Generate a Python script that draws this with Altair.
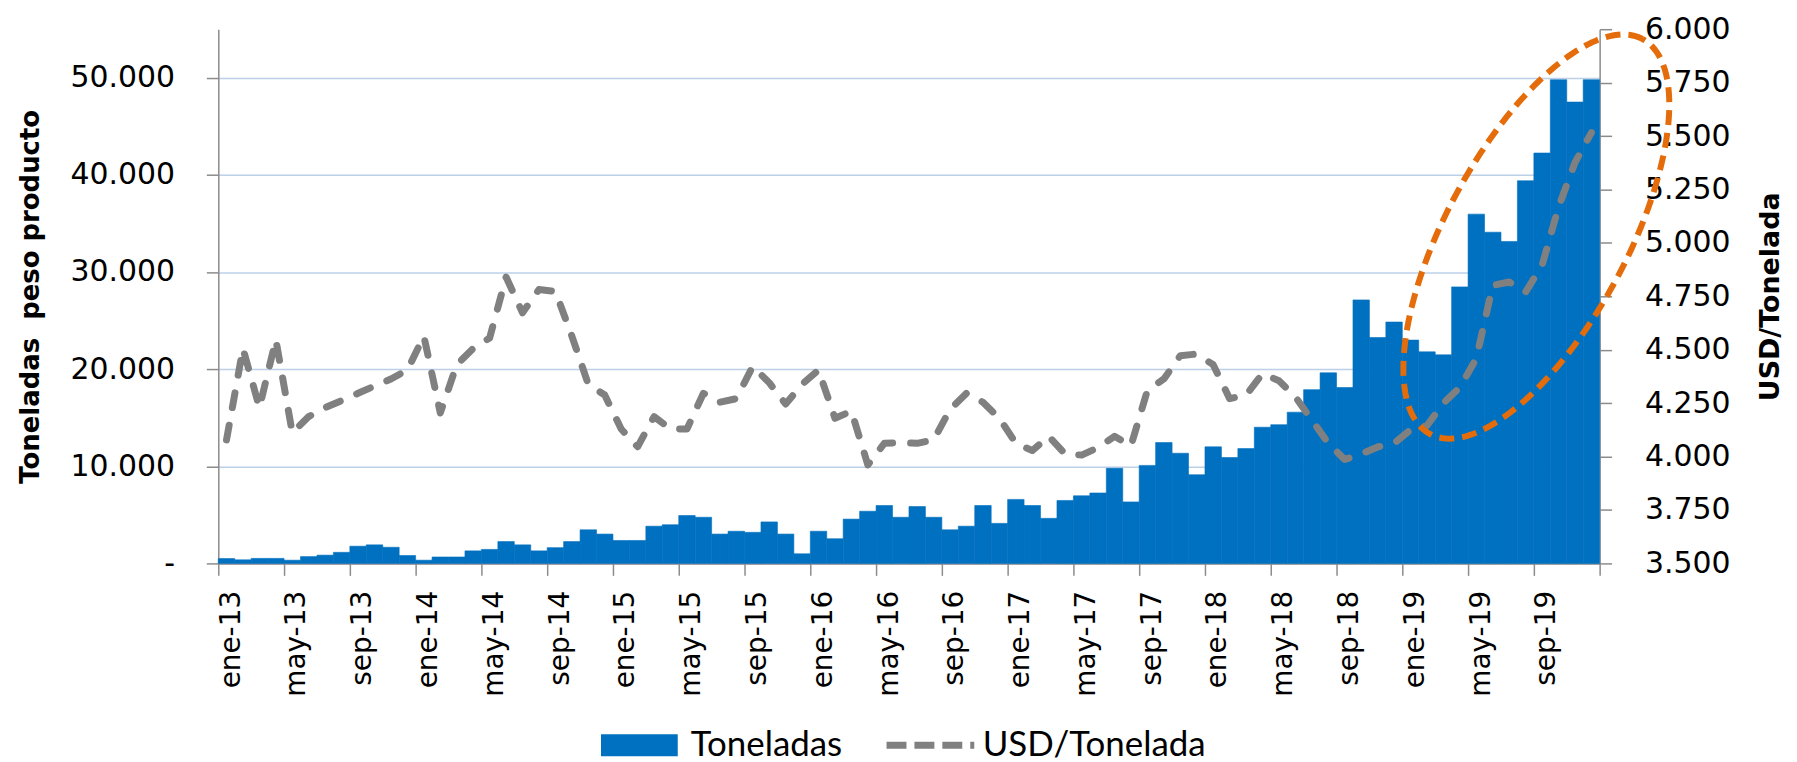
import altair as alt
import numpy as np
import pandas as pd

# ---------------- data ----------------
MONTHS = ["ene", "feb", "mar", "abr", "may", "jun", "jul", "ago", "sep", "oct", "nov", "dic"]
YEARS = ["13", "14", "15", "16", "17", "18", "19"]

TONELADAS = [
    500, 370, 515, 515, 330, 700, 850, 1140, 1770, 1910, 1660, 810,
    330, 660, 660, 1290, 1440, 2250, 1910, 1290, 1620, 2250, 3460, 3020,
    2360, 2360, 3830, 3980, 4930, 4750, 3020, 3310, 3200, 4270, 3020, 990,
    3310, 2540, 4560, 5370, 5960, 4750, 5850, 4750, 3460, 3830, 5960, 4120,
    6590, 5960, 4640, 6480, 6960, 7250, 9790, 6330, 10090, 12440, 11340, 9130,
    12000, 10900, 11820, 14020, 14280, 15570, 17890, 19620, 18110, 27130, 23260, 24850,
    22990, 21780, 21470, 28470, 35960, 34100, 33150, 39400, 42250, 49800, 47500, 49800,
]

USD_TON = [
    4078, 4506, 4229, 4547, 4112, 4187, 4229, 4262, 4296, 4330, 4363, 4405,
    4564, 4204, 4430, 4506, 4555, 4840, 4673, 4782, 4773, 4564, 4338, 4288,
    4129, 4046, 4187, 4129, 4129, 4296, 4254, 4271, 4422, 4346, 4246, 4338,
    4405, 4179, 4213, 3961, 4062, 4065, 4062, 4078, 4221, 4296, 4254, 4179,
    4062, 4028, 4095, 4012, 4007, 4042, 4095, 4050, 4310, 4363, 4472, 4480,
    4430, 4271, 4288, 4388, 4355, 4279, 4171, 4062, 3986, 4012, 4045, 4062,
    4125, 4145, 4250, 4324, 4459, 4801, 4817, 4770, 4895, 5167, 5376, 5516,
]

LEFT_TICKS = [0, 10000, 20000, 30000, 40000, 50000]
RIGHT_TICKS = [3500, 3750, 4000, 4250, 4500, 4750, 5000, 5250, 5500, 5750, 6000]
SERIES = ["Toneladas", "USD/Tonelada"]
LEFT_TITLE = "Toneladas\u00a0 peso producto"
RIGHT_TITLE = "USD/Tonelada"

# annotation ellipse (centre in data units, semi-axes in px, tilt in degrees)
ELL_CX, ELL_CY = 80.15, 33650
ELL_A, ELL_B, ELL_ANGLE = 225, 91, 61.7

# ---------------- styling ----------------
W, H = 1386, 536
BLUE = "#0070C0"
GREY = "#808080"
ORANGE = "#E46C0A"
GRID = "#BCD0E8"
AXIS = "#8C8C8C"
TICK_FONT = "DejaVu Sans"

labels = [f"{m}-{y}" for y in YEARS for m in MONTHS]
n = len(labels)
idx = np.arange(n)
df = pd.DataFrame({
    "i": idx, "i1": idx + 1, "mid": idx + 0.5, "mes": labels,
    "ton": TONELADAS, "usd": USD_TON,
    "sb": SERIES[0], "sl": SERIES[1],
})

XMAX, YMAX = n, 55000
px_x, px_y = W / XMAX, H / YMAX
t = np.linspace(0, 2 * np.pi, 241)
th = np.radians(ELL_ANGLE)
dx = ELL_A * np.cos(t) * np.cos(th) - ELL_B * np.sin(t) * np.sin(th)
dy = ELL_A * np.cos(t) * np.sin(th) + ELL_B * np.sin(t) * np.cos(th)
ell = pd.DataFrame({"k": np.arange(len(t)), "x": ELL_CX + dx / px_x, "y": ELL_CY + dy / px_y})

label_arr = "[" + ",".join(f"'{l}'" for l in labels) + ",'']"
x_scale = alt.Scale(domain=[0, XMAX], nice=False, zero=False)
x_axis = alt.Axis(
    values=list(range(0, XMAX + 1, 4)), labelExpr=f"{label_arr}[datum.value]",
    labelAngle=270, labelAlign="right", labelBaseline="middle", labelOffset=13,
    tickSize=12, labelPadding=15, grid=False, title=None,
    domainColor=AXIS, domainWidth=1.5, tickColor=AXIS, tickWidth=1.5,
    labelFont=TICK_FONT, labelFontSize=28, labelColor="#000000",
)

num_expr = "replace(format(datum.value, ',.0f'), ',', '.')"

y_left = alt.Axis(
    values=LEFT_TICKS, labelExpr=f"datum.value == 0 ? '-\u00a0\u00a0' : {num_expr}",
    grid=True, gridColor=GRID, gridWidth=1.5,
    tickSize=12, labelPadding=32, domainColor=AXIS, domainWidth=1.5, tickColor=AXIS, tickWidth=1.5,
    labelFont=TICK_FONT, labelFontSize=30, labelColor="#000000",
    title=LEFT_TITLE, titleFont=TICK_FONT, titleFontSize=26, titleFontWeight="bold",
    titleColor="#000000", titlePadding=26,
)
y_right = alt.Axis(
    orient="right", values=RIGHT_TICKS, labelExpr=num_expr, grid=False,
    tickSize=12, labelPadding=33, domainColor=AXIS, domainWidth=1.5, tickColor=AXIS, tickWidth=1.5,
    labelFont=TICK_FONT, labelFontSize=30, labelColor="#000000",
    title=RIGHT_TITLE, titleFont=TICK_FONT, titleFontSize=27, titleFontWeight="bold",
    titleColor="#000000", titlePadding=28, titleAngle=270, titleBaseline="top",
)

bars = alt.Chart(df).mark_bar(stroke=BLUE, strokeWidth=0.6).encode(
    x=alt.X("i:Q", scale=x_scale, axis=x_axis),
    x2="i1:Q",
    y=alt.Y("ton:Q", scale=alt.Scale(domain=[0, YMAX], nice=False), axis=y_left),
    y2=alt.datum(0),
    fill=alt.Fill(
        "sb:N", scale=alt.Scale(domain=[SERIES[0]], range=[BLUE]),
        legend=alt.Legend(
            title=None, orient="none", legendX=405, legendY=701, padding=0,
            symbolType="M-3.5,-1H3.5V1H-3.5Z", symbolSize=484, symbolStrokeWidth=0,
            labelFont="Lato", labelFontSize=35, labelOffset=34, labelColor="#000000", labelLimit=400,
        ),
    ),
)

line = alt.Chart(df).mark_line(
    strokeWidth=7, strokeDash=[15, 18], strokeCap="round", strokeJoin="round"
).encode(
    x=alt.X("mid:Q", scale=x_scale, axis=x_axis),
    y=alt.Y("usd:Q", scale=alt.Scale(domain=[3500, 6000], nice=False, zero=False), axis=y_right),
    stroke=alt.Stroke(
        "sl:N", scale=alt.Scale(domain=[SERIES[1]], range=[GREY]),
        legend=alt.Legend(
            title=None, orient="none", legendX=697, legendY=701, padding=0,
            symbolType="M-4,0H4", symbolSize=484, symbolStrokeWidth=7, symbolDash=[20, 8],
            symbolFillColor="transparent",
            labelFont="Lato", labelFontSize=35, labelOffset=35, labelColor="#000000", labelLimit=400,
        ),
    ),
)

ellipse = alt.Chart(ell).mark_line(
    color=ORANGE, strokeWidth=6, strokeDash=[15, 8], clip=False
).encode(
    x=alt.X("x:Q", scale=x_scale, axis=x_axis),
    y=alt.Y("y:Q", scale=alt.Scale(domain=[0, YMAX], nice=False), axis=None),
    order="k:Q",
)

chart = (
    alt.layer(bars, line, ellipse)
    .resolve_scale(y="independent", fill="independent", stroke="independent")
    .properties(
        width=W, height=H,
        autosize=alt.AutoSizeParams(type="none"),
        padding={"left": 211, "top": 20, "right": 190, "bottom": 200},
        background="white",
    )
    .configure_view(stroke=None)
)

chart.save("out.html", embed_options={"renderer": "svg", "actions": False})
